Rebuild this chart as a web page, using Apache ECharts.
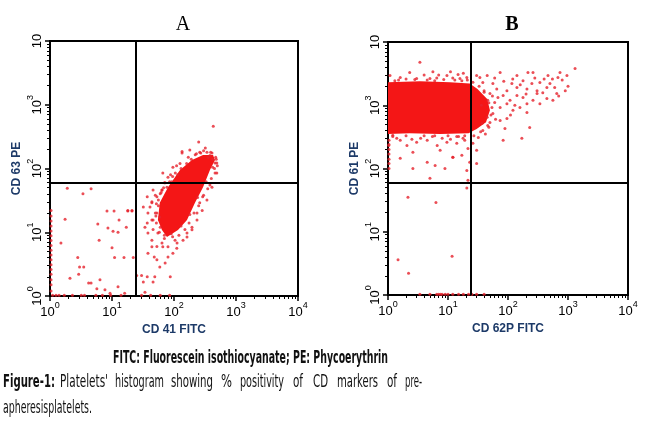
<!DOCTYPE html>
<html><head><meta charset="utf-8">
<script src="https://cdn.jsdelivr.net/npm/echarts@6/dist/echarts.min.js"></script>
<style>html,body{margin:0;padding:0;background:#fff}#c{width:650px;height:426px}</style>
</head><body><div id="c"></div>
<script>
// ---------- tick positions ----------
const decadeTicks = [1, 10, 100, 1000, 10000];
const minorTickValues = [2,3,4,5,6,7,8,9,20,30,40,50,60,70,80,90,200,300,400,500,600,700,800,900,2000,3000,4000,5000,6000,7000,8000,9000];

// ---------- panel labels ----------
const panelTitles = ['A', 'B'];
const xNames = ['CD 41 FITC', 'CD 62P FITC'];
const yNames = ['CD 63 PE', 'CD 61 PE'];

// ---------- quadrant gates ----------
const gateA = [24.5, 59];
const gateB = [24, 59];

// ---------- panel A : dense population outline (FITC, PE) ----------
const coreA = [[294,163],[195,136],[125,95],[80,51],[59,29],[55,15.6],[64,10.8],[77,8.4],[116,10.8],[162,15.6],[218,29],[294,51],[380,95],[459,136],[426,163]];

// ---------- panel A : individual events ----------
const eventsA = [
[430,460],[250,260],[135,185],[320,210],[125,120],[105,85],[92,62],[72,60],[64,46],[50,38],[44,30],[41,25],[38,20],[44,15.5],[37,14],[46,11],[44,7.5],[53,6],[64,6.8],[80,5.9],[104,7.5],[111,5.6],[162,8.4],[195,10.9],[235,15.6],[285,22],[340,32],[410,51],[490,85],[460,122],[410,175],[340,180],[18,22],[21,22],
[1.9,49],[4.6,48],[3.4,40],[1.75,16],[8.3,21.5],[10.8,21.5],[13,15.5],[18,21.5],[21,21.5],[5.9,13.5],[8.6,11.7],[10.4,10.4],[6.2,7.5],[1.5,6.8],[12.5,10],[17,12],[10,5.7],[11,4],[15.6,4],[22,4],[2.8,4],[3,2.85],[3.5,2.85],[2.9,2.2],[2.1,1.9],[4.2,1.6],[4.6,1.6],[6.4,1.8],[5.7,1.3],[9.3,1.1],[12.5,1.4],[16,1.1],[7.7,1.25],
[25,2.1],[30,2.1],[37,2],[49,2],[32,1.66],[46,1.66],[34,1.15],[59,2.85],[72,3.3],[87,2],[48,4.1],[38,4.7],[44,5.9],[53,3.7],[80,4.1],[96,4.7],[38,9.7],[34,12],[32,25],[37,36],[46,46],[44,29],[53,20],[46,15.6],[59,17.4],[55,9.7],[66,5.9],[112,6.8],[140,7.5],[162,9.7],[195,12],[235,20],[260,29],[290,36],[380,55],[460,85],[490,122],[355,150],[260,180],[180,195],[135,175],[96,105],[80,73],[66,85],[77,51],[64,46],[53,36],
[60,40],[68,50],[85,62],[95,75],[115,80],[130,100],[160,120],[190,140],[220,165],[270,175],[300,190],[380,160],[420,140],[470,150],[500,110],[450,100],[400,70],[350,48],[300,38],[250,26],[210,20],[175,14],[150,11],[120,9],[95,8.5],[70,8],[58,10],[52,14],[50,20],[52,28],[56,32],
[230,170],[170,150],[110,110],[88,80],[70,60],[62,42],[56,26],[51,18],[60,12],[70,9],[90,9.5],[130,12.5],[180,19],[240,35],[330,62],[420,105],[480,140],[390,180]
];
const edgeColumnA = [1.2,1.5,1.8,2.2,2.6,3.1,3.7,4.4,5.2,6.2,7.4,8.8,10.5,12.5,15,18,22];
const floorRowA = [1.1,1.25,1.4,1.7,2.3,3.2,3.6,5.5,7,9.5,14,30,42,60,85];

// ---------- panel B : dense population outline ----------
const coreB = [[1,2300],[3.4,2400],[10.8,2300],[23,2200],[31,1800],[45,1250],[50,830],[43,540],[30,420],[22,360],[7.4,350],[2.3,360],[1,350]];

// ---------- panel B : individual events ----------
const eventsB = [
[3.4,4800],[1.6,2750],[2.3,3300],[3.0,2650],[5.6,3400],[5,2650],[9.6,2950],[14.7,3050],[15.8,2650],[20.6,2750],[1.08,2950],[1.3,2450],[7,3000],[12,2700],[18,3200],[4,3000],[2,2600],[11,3400],[6.5,2700],
[1.2,334],[1.6,279],[2.07,232],[3.0,259],[4.5,279],[6.6,232],[9.6,259],[14,250],[17.8,300],[1.03,232],[2.6,180],[7.4,194],[12.1,150],[1.6,145],[4.5,125],[17,162],[21.5,208],[23,125],[2.6,100],[6.1,112],[8.9,100],[12,150],[5,70],[20.6,93],[20.6,49],[30,120],[21.5,65],[6.3,29],[2.15,35],[1.47,3.6],[2.2,2.2],[11.7,4.1],[3.5,300],[5.5,320],[8,300],[11,290],[15,320],[19,280],[2.5,290],[1.4,300],
[1310,3800],[960,2950],[735,3300],[680,2750],[464,2950],[261,3300],[215,3300],[141,2950],[74,3300],[178,2450],[250,2200],[340,2290],[445,1900],[380,1580],[305,1700],[207,1800],[141,1900],[116,2200],[96,1700],[83,1430],[68,1330],[60,1110],[74,920],[96,1060],[108,1200],[121,830],[158,920],[207,1060],[261,1200],[340,1060],[445,1280],[560,1200],[650,1530],[207,770],[230,445],[170,300],[83,279],[89,430],[74,575],[96,620],[56,740],[50,535],[45,645],[38,400],[37,520],[32,310],[54,920],[46,1200],[50,1530],[65,1800],[56,2200],[38,2290],[34,2750],[30,2950],[45,2950],[500,2200],[600,1900],[305,1530],[178,1330],[141,1430],[30,194],[26,250],
[800,2500],[1000,2000],[900,1700],[550,2600],[400,2600],[120,2600],[280,2700],[700,1400],[200,1500],[160,2100],[60,2700],[85,2400],[40,1700],[36,1000],[55,1400],[62,600],[110,700],[130,1000],[48,450],[42,350],
[1.5,2500],[2.8,2550],[4.5,2500],[6,2450],[8.5,2550],[13,2500],[17,2450],[21,2500],[26,2300],[33,2000],[40,1600],[48,1100],[52,700],[46,480],[35,380],[27,330],[19,330],[14,320],[10,330],[6,330],[4,330],[2,330],[1.2,320]
];
const edgeColumnB = [100,120,140,170,200,240,280];
const floorRowB = [3.4,5,6.5,7,7.5,8,9,10,12,15,18,22,25,30,40];

// ---------- caption ----------
const captionBold = 'FITC: Fluorescein isothiocyanate; PE: Phycoerythrin';
const captionWords = ['Figure-1:', "Platelets'", 'histogram', 'showing', '%', 'positivity', 'of', 'CD', 'markers', 'of', 'pre-'];
const captionLine2 = 'apheresisplatelets.';

// ---------- build ----------
const FONT = '"Liberation Sans", Arial, sans-serif';
const CAPFONT = '"Liberation Sans Narrow", "DejaVu Sans Condensed", "Liberation Sans", sans-serif';
const NAVY = '#1d3a68';
const DENSE = '#f41616';
const DOT = '#e6222c';

const ptsA = eventsA.concat(edgeColumnA.map(v => [1.04, v]), floorRowA.map(v => [v, 1.03]));
const ptsB = eventsB.concat(edgeColumnB.map(v => [1.04, v]), floorRowB.map(v => [v, 1.03]));

const rich = {
  b: {fontSize: 13, fontFamily: FONT, color: '#000', lineHeight: 18, verticalAlign: 'bottom'},
  s: {fontSize: 9, fontFamily: FONT, color: '#000', lineHeight: 18, verticalAlign: 'top'}
};
function lab(isY) {
  return function (v) {
    const e = Math.round(Math.log10(v));
    if (isY && e === 4) return '{b|10}';
    return '{b|10}{s|' + e + '}';
  };
}
function mainAxis(grid, name, isY) {
  return {
    type: 'log', logBase: 10, gridIndex: grid, min: 1, max: 10000,
    position: isY ? 'left' : 'bottom',
    name: name, nameLocation: 'middle', nameGap: isY ? 27 : 26,
    nameTextStyle: {color: NAVY, fontFamily: FONT, fontWeight: 'bold', fontSize: 12},
    axisLine: {show: true, onZero: false, lineStyle: {color: '#000', width: 2}},
    axisTick: {show: true, length: 5, customValues: decadeTicks, lineStyle: {color: '#000', width: 1.5}},
    axisLabel: {show: true, margin: isY ? 6 : 5, rotate: isY ? 90 : 0, customValues: decadeTicks, formatter: lab(isY), rich: rich},
    splitLine: {show: false}
  };
}
function minorAxis(grid, isY) {
  return {
    type: 'log', logBase: 10, gridIndex: grid, min: 1, max: 10000,
    position: isY ? 'left' : 'bottom', offset: 0,
    axisLine: {show: true, onZero: false, lineStyle: {color: '#000', width: 2}},
    axisTick: {show: true, length: 3, customValues: minorTickValues, lineStyle: {color: '#000', width: 1}},
    axisLabel: {show: false}, splitLine: {show: false}
  };
}
function coreSeries(idx, poly) {
  return {
    type: 'custom', xAxisIndex: idx, yAxisIndex: idx, data: poly, clip: true, z: 1, silent: true,
    renderItem: function (params, api) {
      if (params.dataIndex !== 0) return null;
      return {type: 'polygon', shape: {points: poly.map(p => api.coord(p))}, style: {fill: DENSE}};
    }
  };
}
function dotSeries(idx, pts, gate) {
  return {
    type: 'scatter', xAxisIndex: idx, yAxisIndex: idx, data: pts, symbolSize: 3, z: 2, silent: true,
    itemStyle: {color: DOT},
    markLine: {
      silent: true, symbol: 'none', animation: false, label: {show: false},
      lineStyle: {color: '#000', width: 2, type: 'solid'},
      data: [{xAxis: gate[0]}, {yAxis: gate[1]}]
    }
  };
}

// caption text fitted into the measured word boxes of the figure
const mctx = document.createElement('canvas').getContext('2d');
function fitText(str, bold, left, right, y, center) {
  const font = (bold ? 'bold ' : '') + '17px ' + CAPFONT;
  mctx.font = font;
  const w = mctx.measureText(str).width;
  const sx = (right - left) / w;
  return {type: 'text', x: center ? (left + right) / 2 : left, y: y, scaleX: sx,
    style: {text: str, font: font, fill: '#111', textAlign: center ? 'center' : 'left', textVerticalAlign: 'middle'}};
}
const wordBoxes = [[3,55],[60,108],[115,164],[171,213],[221,232],[240,284],[293,303],[313,328],[337,378],[387,397],[405,422]];
const graphics = [fitText(captionBold, true, 113, 388, 359, true)]
  .concat(captionWords.map((w, i) => fitText(w, i === 0, wordBoxes[i][0], wordBoxes[i][1], 383, false)))
  .concat([fitText(captionLine2, false, 3, 92, 409, false)]);

const chart = echarts.init(document.getElementById('c'), null, {renderer: 'canvas'});
const gridStyle = {show: true, borderColor: '#000', borderWidth: 2, backgroundColor: 'transparent', containLabel: false};
chart.setOption({
  animation: false,
  backgroundColor: '#fff',
  title: [
    {text: panelTitles[0], left: 178, top: 10, textAlign: 'center', textStyle: {fontFamily: '"Liberation Serif", serif', fontWeight: 'normal', fontSize: 20, color: '#000'}},
    {text: panelTitles[1], left: 507, top: 10, textAlign: 'center', textStyle: {fontFamily: '"Liberation Serif", serif', fontWeight: 'bold', fontSize: 20, color: '#000'}}
  ],
  grid: [
    Object.assign({left: 50, top: 41, width: 248, height: 255}, gridStyle),
    Object.assign({left: 388, top: 42, width: 240, height: 253}, gridStyle)
  ],
  xAxis: [mainAxis(0, xNames[0], false), mainAxis(1, xNames[1], false), minorAxis(0, false), minorAxis(1, false)],
  yAxis: [mainAxis(0, yNames[0], true), mainAxis(1, yNames[1], true), minorAxis(0, true), minorAxis(1, true)],
  series: [coreSeries(0, coreA), dotSeries(0, ptsA, gateA), coreSeries(1, coreB), dotSeries(1, ptsB, gateB)],
  graphic: graphics
});
</script></body></html>
